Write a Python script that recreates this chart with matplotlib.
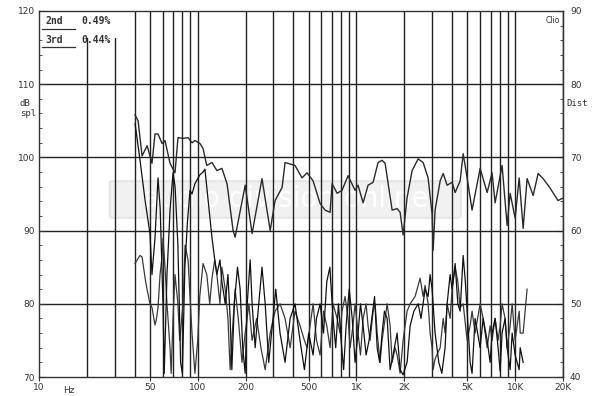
"""Clio style response + harmonic distortion plot (log frequency axis)."""
import numpy as np
import matplotlib
matplotlib.use('Agg')
import matplotlib.pyplot as plt
from matplotlib.ticker import FixedLocator, NullFormatter
from matplotlib.patches import Rectangle, FancyBboxPatch

# --- data (Hz, dB spl) ---
fr_freq = [40.3, 42.1, 44.6, 48.0, 51.5, 53.8, 56.2, 59.6, 62.2, 66.9, 71.9, 75.1,
           80.8, 86.9, 92.1, 96.2, 103.3, 108, 114, 123, 132, 142, 153, 167, 172,
           199, 220, 254, 286, 307, 340, 355, 410, 454, 488, 533, 590, 634, 682,
           702, 755, 811, 885, 980, 1023, 1101, 1183, 1273, 1368, 1449, 1515, 1677,
           1803, 1884, 1967, 2084, 2241, 2446, 2630, 2827, 2994, 3040, 3128, 3367,
           3518, 3724, 4003, 4183, 4498, 4700, 4979, 5348, 6010, 6655, 7149, 7470,
           8266, 8892, 9290, 9987, 10590, 11220, 11880, 12970, 13940, 14990, 16590,
           18620, 19770]
fr_db = [105.8, 105.0, 100.2, 101.6, 99.2, 103.2, 103.2, 101.9, 102.3, 99.2, 97.9, 102.7,
         102.6, 102.7, 102.0, 102.3, 101.9, 101.2, 98.9, 99.3, 98.2, 98.5, 96.4, 90.0, 89.1,
         96.2, 89.6, 97.1, 90.0, 94.1, 95.9, 99.3, 98.9, 97.2, 97.9, 96.8, 93.7, 92.8, 92.5,
         96.4, 95.1, 95.5, 97.5, 95.5, 96.2, 93.8, 96.2, 96.6, 99.3, 99.6, 99.2, 92.8,
         93.0, 92.5, 89.4, 94.5, 98.2, 99.8, 99.3, 97.2, 92.3, 87.3, 92.8, 96.8,
         97.8, 96.2, 96.6, 95.2, 96.8, 100.5, 97.2, 92.8, 98.5, 95.2, 97.9, 93.8,
         98.9, 90.7, 95.1, 91.7, 97.2, 90.3, 97.1, 94.8, 97.8, 97.1, 95.8,
         94.1, 94.4]

h2_freq = [40.3, 43.3, 46.6, 50, 51.5, 53.8, 56.2, 58, 60.4, 61.5, 64, 67, 69.9, 72, 75,
           78, 80, 83, 86, 89.4, 92, 96, 103, 108, 111, 114, 119, 123, 128, 132, 138,
           142, 149, 155, 160, 164, 170, 178, 185, 192, 199, 205, 214, 220, 230, 240,
           254, 266, 280, 298, 310, 330, 355, 382, 410, 441, 470, 500, 533, 560, 590,
           620, 650, 680, 712, 740, 770, 800, 830, 860, 900, 940, 980, 1023, 1060,
           1101, 1150, 1200, 1250, 1300, 1350, 1400, 1450, 1500, 1560, 1629, 1700,
           1803, 1884, 1967, 2084, 2178, 2300, 2446, 2550, 2706, 2827, 2910, 2994,
           3128, 3300, 3450, 3617, 3724, 3890, 4003, 4183, 4350, 4498, 4700, 4850,
           4979, 5200, 5348, 5589, 5800, 6010, 6281, 6655, 6950, 7149, 7470, 7800,
           8035, 8266, 8636, 8892, 9290, 9564, 9987, 10590, 10750, 11220]
h2_db = [104.6, 99.6, 94.1, 89.6, 84, 89, 97.2, 93, 80, 70.5, 84, 93, 97.9, 96, 88,
         72, 70.5, 85, 91, 95.5, 95, 96.4, 97.6, 98, 98.4, 96, 92, 89, 86, 84, 86,
         83, 80, 84, 78, 71, 80, 85, 82, 74, 70.5, 80, 86, 80, 74, 79,
         85, 80, 72, 78, 82, 76, 72, 78, 80, 75, 71, 76, 73, 78, 80,
         76, 83, 85, 78, 74, 80, 75, 71, 77, 82, 78, 72, 76, 80,
         77, 73, 75, 78, 81, 74, 72, 76, 79, 78, 71, 73,
         76, 71, 70.3, 72, 77, 79, 80, 78, 82, 81, 84, 82,
         76, 72, 70.5, 74, 80, 84, 82, 85.5, 80, 79, 86.6, 83,
         79, 72, 70.5, 78, 76, 74, 78, 75, 72, 76, 78, 74,
         70.8, 76, 78, 74, 71, 76, 73, 71, 74, 72]

h3_freq = [40.3, 42.1, 43.3, 44.6, 46.6, 48, 50, 51.5, 53.8, 55, 56.2, 57.9, 59.6, 60.4,
           62.2, 64, 66.9, 68, 69.9, 71.9, 75, 77, 80.8, 83.2, 86.9, 89.4, 92, 96, 100,
           103, 108, 114, 119, 123, 128, 132, 138, 142, 149, 155, 160, 164, 172, 180,
           190, 199, 210, 220, 235, 250, 266, 286, 307, 330, 355, 382, 410, 441, 470,
           488, 510, 533, 560, 590, 620, 650, 682, 712, 755, 788, 811, 848, 885, 912,
           950, 980, 1023, 1060, 1101, 1150, 1183, 1218, 1273, 1310, 1350, 1408, 1449,
           1515, 1560, 1629, 1677, 1752, 1803, 1884, 1967, 2084, 2178, 2341, 2517, 2630,
           2706, 2827, 2910, 2994, 3040, 3128, 3367, 3518, 3617, 3724, 3890, 4003, 4183,
           4350, 4498, 4700, 4979, 5200, 5348, 5589, 6010, 6281, 6655, 6950, 7149, 7470,
           7800, 8035, 8266, 8636, 8892, 9290, 9564, 9987, 10590, 10750, 11220, 11880]
h3_db = [85.5, 86.2, 86.6, 86.4, 83.5, 81.9, 80, 79.5, 77.1, 78, 79.5, 84, 86.5, 89,
         85, 80, 74, 70.5, 78, 84, 80, 75, 80, 88, 86, 81, 76, 70.5, 75,
         81, 85.5, 84, 80, 83.5, 86, 84, 80, 85, 82, 78, 71, 75, 82, 78,
         72, 76, 80, 75, 78, 74, 71, 76, 79, 80, 78, 74, 79, 77, 75,
         74, 77, 80, 75, 73, 79, 77, 74, 80, 78, 76, 79, 81, 78, 74,
         77, 80, 76, 73, 78, 80, 77, 75, 79, 80, 76, 72, 75,
         78, 80, 77, 72, 74, 73, 70.5, 75, 79, 80, 81, 83.5, 81,
         82.5, 80, 76, 74, 71, 72.5, 74, 78, 76, 80, 78, 82, 85,
         83, 79.5, 80, 75, 77, 79, 76, 80, 78, 74, 77, 75, 78,
         75, 77, 80, 78, 74, 77, 80, 75, 79, 76, 76, 82]

x_ticks = [10, 50, 100, 200, 500, 1000, 2000, 5000, 10000, 20000]
x_labels = ['10', '50', '100', '200', '500', '1K', '2K', '5K', '10K', '20K']
spl_ticks = [70, 80, 90, 100, 110, 120]
dist_ticks = [40, 50, 60, 70, 80, 90]
legend_rows = [('2nd', '0.49%'), ('3rd', '0.44%')]

W, H = 600, 396
fig = plt.figure(figsize=(W / 100, H / 100), dpi=100)
ax = fig.add_axes([39 / W, 1 - 377 / H, (563 - 39) / W, (377 - 11) / H])

ax.set_xscale('log')
ax.set_xlim(10, 20000)
ax.set_ylim(70, 120)

# grid: every 1-2-3..9 per decade, every 10 dB
grid_x = [m * 10 ** e for e in range(1, 5) for m in range(1, 10)] + [20000]
for gx in grid_x[1:-1]:
    ax.axvline(gx, color='#222', lw=1.0, zorder=1)
for gy in spl_ticks[1:-1]:
    ax.axhline(gy, color='#222', lw=1.0, zorder=1)

# watermark
ax.add_patch(FancyBboxPatch((0.14, 0.44), 0.66, 0.09, boxstyle='round,pad=0.005',
                            transform=ax.transAxes, fc='#f1f1f1', ec='#e6e6e6',
                            lw=1.5, zorder=0.5))
ax.text(0.47, 0.485, 'audio division online', transform=ax.transAxes, ha='center',
        va='center', fontsize=20, color='white', zorder=0.6, family='DejaVu Sans')

ax.plot(h3_freq, h3_db, color='#3a3a3a', lw=0.9, zorder=3)
ax.plot(h2_freq, h2_db, color='#111', lw=0.9, zorder=3)
ax.plot(fr_freq, fr_db, color='#2a2a2a', lw=1.0, zorder=4)

for sp in ax.spines.values():
    sp.set_color('#333')
    sp.set_linewidth(1.0)

mono = 'DejaVu Sans Mono'
ax.xaxis.set_major_locator(FixedLocator(x_ticks))
ax.set_xticklabels(x_labels, fontsize=6.5, family='DejaVu Sans', color='#333')
ax.xaxis.set_minor_locator(FixedLocator([]))
ax.xaxis.set_minor_formatter(NullFormatter())
ax.tick_params(axis='x', direction='out', length=3, width=0.8, pad=1.5, colors='#333')
ax.text(15.5, 68.8, 'Hz', ha='center', va='top', fontsize=6.5, color='#333')

ax.yaxis.set_major_locator(FixedLocator(spl_ticks))
ax.yaxis.set_minor_locator(FixedLocator(list(range(72, 120, 2))))
ax.tick_params(axis='y', which='major', direction='in', length=4, width=0.8,
               labelsize=6.5, pad=3, colors='#333')
ax.tick_params(axis='y', which='minor', direction='in', length=2, width=0.6, colors='#333')
for lbl in ax.get_yticklabels():
    lbl.set_family('DejaVu Sans')

sec = ax.secondary_yaxis('right', functions=(lambda y: y - 30, lambda y: y + 30))
sec.yaxis.set_major_locator(FixedLocator(dist_ticks))
sec.yaxis.set_minor_locator(FixedLocator(list(range(42, 90, 2))))
sec.tick_params(which='major', direction='in', length=4, width=0.8, labelsize=6.5,
                pad=5, colors='#333')
sec.tick_params(which='minor', direction='in', length=2, width=0.6, colors='#333')

fig.text(20 / W, 1 - 103 / H, 'dB', fontsize=6.5, family=mono, va='center', color='#333')
fig.text(20 / W, 1 - 113 / H, 'spl', fontsize=6.5, family=mono, va='center', color='#333')
fig.text(566 / W, 1 - 103 / H, 'Dist', fontsize=6.5, family=mono, va='center', color='#333')

# legend block top-left
ax.add_patch(Rectangle((0.0, 0.925), 0.175, 0.075, transform=ax.transAxes,
                       fc='white', ec='none', zorder=2))
for i, (name, val) in enumerate(legend_rows):
    ty = 0.985 - i * 0.05
    ax.text(0.013, ty, name, transform=ax.transAxes, fontsize=7, family=mono,
            fontweight='bold', va='top', color='#333', zorder=5)
    ax.text(0.08, ty, val, transform=ax.transAxes, fontsize=7, family=mono,
            fontweight='bold', va='top', color='#333', zorder=5)
    ax.plot([0.006, 0.068], [ty - 0.033, ty - 0.033], transform=ax.transAxes,
            color='#333', lw=0.9, zorder=5)

ax.text(0.995, 0.985, 'Clio', transform=ax.transAxes, fontsize=5.5, ha='right',
        va='top', color='#333', zorder=5)

fig.savefig('out.png', dpi=100)
